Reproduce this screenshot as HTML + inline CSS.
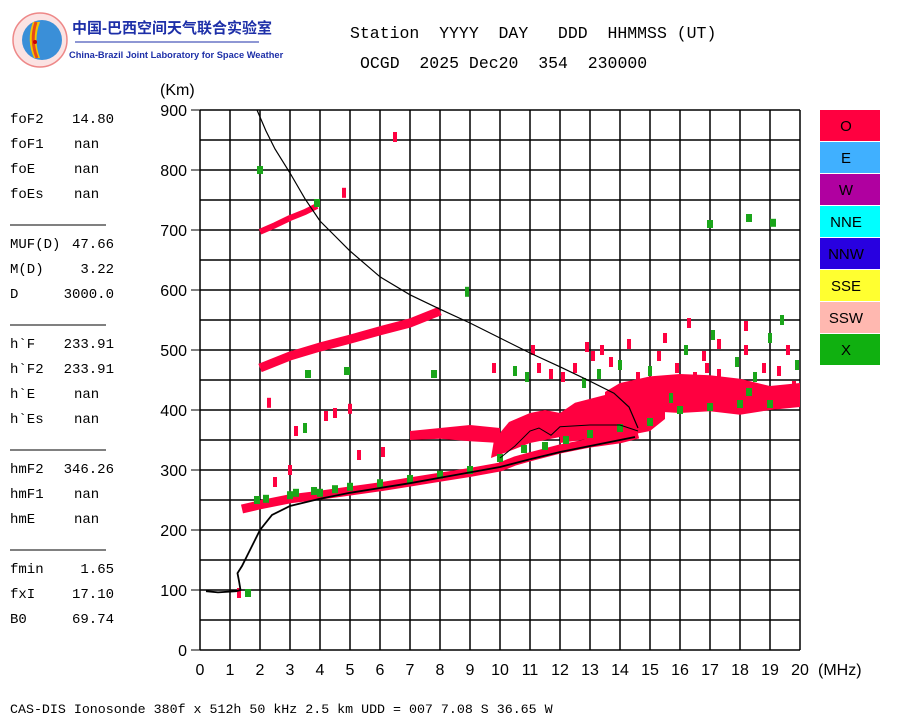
<!DOCTYPE html>
<html><head><meta charset="utf-8"><style>
body{margin:0;background:#fff;width:900px;height:720px;overflow:hidden}
svg text{font-family:"Liberation Sans","Noto Sans CJK SC",sans-serif}
svg text.mono{font-family:"Liberation Mono","Noto Sans CJK SC",monospace;font-size:14px;white-space:pre}
</style></head><body>
<svg id="chart" width="900" height="720" viewBox="0 0 900 720" xmlns="http://www.w3.org/2000/svg">
<g>
<circle cx="40" cy="40" r="27" fill="#fbe3e3" stroke="#e88" stroke-width="1.5"/>
<circle cx="42" cy="40" r="20" fill="#3a8fd8"/>
<path d="M33,22 Q26,40 34,58 L40,58 Q33,40 40,22 Z" fill="#f5c400"/>
<path d="M36,22 Q30,40 37,58" stroke="#e8481a" stroke-width="3" fill="none"/>
<circle cx="35" cy="42" r="2" fill="#c00"/>
<text x="72" y="33" font-size="15" fill="#1d2fa8" font-weight="bold">中国-巴西空间天气联合实验室</text>
<line x1="75" y1="42" x2="259" y2="42" stroke="#1d2fa8" stroke-width="1"/>
<text x="69" y="58" font-size="9.3" fill="#1d2fa8" font-weight="bold">China-Brazil Joint Laboratory for Space Weather</text>
</g>
<text class="mono" x="350" y="38" style="font-size:16.5px">Station  YYYY  DAY   DDD  HHMMSS (UT)</text>
<text class="mono" x="360" y="68" style="font-size:16.5px">OCGD  2025 Dec20  354  230000</text>
<text x="160" y="95" font-size="16">(Km)</text>
<text x="818" y="675" font-size="16">(MHz)</text>
<g id="params"></g>
<g id="grid"></g>
<g id="echoes"></g>
<g id="curves"></g>
<g id="axes"></g>
<g id="legend"></g>
<text class="mono" x="10" y="713" style="font-size:13.3px">CAS-DIS Ionosonde 380f x 512h 50 kHz 2.5 km UDD = 007 7.08 S 36.65 W</text>
</svg>
<script>
const xTicks=[0,1,2,3,4,5,6,7,8,9,10,11,12,13,14,15,16,17,18,19,20];
const yTicks=[0,100,200,300,400,500,600,700,800,900];
const bandF=[1.4,2,3,4,5,6,7,8,9,10,10.5,11,12,13,14,14.6];
const bandH=[235,242,252,258,265,272,280,288,296,305,315,322,335,345,352,360];
const hop2F=[2,3,4,5,6,7,7.5,8];
const hop2H=[470,490,505,518,532,545,555,565];
const hop3F=[2,2.5,3,3.5,3.9];
const hop3H=[697,708,720,730,740];
const cloudAF=[9.7,10.5,11,11.5,12,12,11.5,11,10.3,9.8];
const cloudAH=[320,335,345,350,355,395,400,395,380,350];
const cloudBF=[12,13,14,15,15.5,15.5,14.5,13.5,12.5,12];
const cloudBH=[345,352,355,365,385,425,432,425,412,395];
const cloudCF=[13.5,14,15,16,17,18,19,20,20,19,18,17,16,15,14,13.5];
const cloudCH=[395,400,398,395,398,392,400,405,445,440,452,458,460,456,445,430];
const cloudDF=[7,8,9,10,10,9,8,7];
const cloudDH=[350,352,348,345,370,375,370,365];
const scatF=[11.3,11.7,12.5,12.8,13.1,13.4,13.7,14,14.3,14.6,15,15.3,15.5,15.9,16.2,16.5,16.8,17.1,17.3,17.6,17.9,18.2,18.5,18.8,19,19.3,19.6,19.9,16.3,18.2,19.4,17.3,12.1,10.5,9.8,12.9,6.5,4.8,8.9,4.5,5,4.2,3.2,3.5,1.3,3,2.3,2.5,5.3,6.1,10.9,11.1,19.8,15.7,16.9,14.9,13.3];
const scatH=[470,460,470,445,490,500,480,475,510,455,465,490,520,470,500,455,490,525,460,445,480,500,455,470,520,465,500,475,545,540,550,510,455,465,470,505,855,762,597,395,402,390,365,370,95,300,412,280,325,330,455,500,440,420,470,440,460];
const scatC=['r','r','r','g','r','r','r','g','r','r','g','r','r','r','g','r','r','g','r','r','g','r','g','r','g','r','r','g','r','r','g','r','r','g','r','r','r','r','g','r','r','r','r','g','r','r','r','r','r','r','g','r','r','g','r','r','g'];
const greenF=[1.9,2.2,3,3.2,3.8,4,4.5,5,6,7,8,9,10,10.8,11.5,12.2,13,14,15,16,17,18,18.3,19,1.6,2,3.6,4.9,7.8,3.9,17,18.3,19.1];
const greenH=[250,252,258,262,265,262,268,272,278,285,292,300,320,335,340,350,360,370,380,400,405,410,430,410,95,800,460,465,460,745,710,720,712];
const legendLabels=['O','E','W','NNE','NNW','SSE','SSW','X'];
const legendColors=['#ff0040','#40b0ff','#b000a0','#00ffff','#2800e0','#ffff30','#ffb8b0','#10b010'];
const trueF=[0.2,0.6,1.2,1.35,1.3,1.25,1.4,1.6,1.8,2,2.4,3,4,5,6,7,8,9,10,11,12,13,14,14.5];
const trueH=[98,96,98,100,115,128,140,160,180,200,225,240,252,262,270,278,287,296,305,318,330,340,350,355];
const topF=[1.9,2.2,2.5,3,3.5,4,4.5,5,6,7,8,9,10,11,12,13,13.8,14.3,14.6];
const topH=[900,865,835,795,752,715,690,665,622,592,568,545,520,495,472,448,428,405,370];
const innerF=[10,10.5,11,11.3,11.7,12,13,14,14.6];
const innerH=[320,340,365,370,358,372,375,375,365];
const paramLabels=['foF2','foF1','foE','foEs','MUF(D)','M(D)','D','h`F','h`F2','h`E','h`Es','hmF2','hmF1','hmE','fmin','fxI','B0'];
const paramValues=['14.80','nan','nan','nan','47.66','3.22','3000.0','233.91','233.91','nan','nan','346.26','nan','nan','1.65','17.10','69.74'];
const paramRows=[0,1,2,3,5,6,7,9,10,11,12,14,15,16,18,19,20];

const NS='http://www.w3.org/2000/svg';
const X=f=>200+f*30, Y=h=>650-h*0.6;
function mk(tag,attrs,parent){const e=document.createElementNS(NS,tag);for(const k in attrs)e.setAttribute(k,attrs[k]);parent.appendChild(e);return e;}
const G=document.getElementById('grid'),E=document.getElementById('echoes'),C=document.getElementById('curves'),A=document.getElementById('axes'),L=document.getElementById('legend'),P=document.getElementById('params');
paramLabels.forEach((lb,i)=>{const y=118+paramRows[i]*25+5;
const t=mk('text',{x:10,y:y,class:'mono'},P);t.textContent=lb;


const v=paramValues[i];
const attrs=v==='nan'?{x:74,y:y,class:'mono'}:{x:114,y:y,class:'mono','text-anchor':'end'};
const tv=mk('text',attrs,P);tv.textContent=v;

});
for(const y of [225,325,450,550]){const l=mk('line',{x1:10,y1:y,x2:106,y2:y,stroke:'#000'},P);

}
for(const f of xTicks){const l=mk('line',{x1:X(f),y1:110,x2:X(f),y2:650,stroke:'#000','stroke-width':1.5},G);


const t=mk('text',{x:X(f),y:675,'font-size':16,'text-anchor':'middle'},A);t.textContent=f;

}
for(let h=0;h<=900;h+=50){const l=mk('line',{x1:200,y1:Y(h),x2:800,y2:Y(h),stroke:'#000','stroke-width':1.5},G);

}
for(const h of yTicks){const t=mk('text',{x:187,y:Y(h)+6,'font-size':16,'text-anchor':'end'},A);t.textContent=h;


const l=mk('line',{x1:191,y1:Y(h),x2:200,y2:Y(h),stroke:'#000'},A);

}
const RED='#ff0040',GRN='#1aa51a';
function band(fs,hs,w,name){const pl=mk('polyline',{points:fs.map((f,i)=>X(f)+','+Y(hs[i])).join(' '),fill:'none',stroke:RED,'stroke-width':w,'stroke-linejoin':'round'},E);

}
function cloud(fs,hs,name){const pg=mk('polygon',{points:fs.map((f,i)=>X(f)+','+Y(hs[i])).join(' '),fill:RED},E);

}
band(bandF,bandH,9,'o-trace-band');band(hop2F,hop2H,9,'second-hop-band');band(hop3F,hop3H,6,'third-hop-band');
cloud(cloudAF,cloudAH,'spread-cloud-a');cloud(cloudBF,cloudBH,'spread-cloud-b');cloud(cloudCF,cloudCH,'spread-cloud-c');cloud(cloudDF,cloudDH,'spread-cloud-d');
scatF.forEach((f,i)=>{const r=mk('rect',{x:X(f)-2,y:Y(scatH[i])-5,width:4,height:10,fill:scatC[i]==='g'?GRN:RED},E);

});
greenF.forEach((f,i)=>{const r=mk('rect',{x:X(f)-3,y:Y(greenH[i])-4,width:6,height:8,fill:GRN},E);

});
function curve(fs,hs,w,name){const pl=mk('polyline',{points:fs.map((f,i)=>X(f)+','+Y(hs[i])).join(' '),fill:'none',stroke:'#000','stroke-width':w},C);

}
curve(trueF,trueH,1.8,'true-height-profile');curve(topF,topH,1.2,'topside-profile');curve(innerF,innerH,1,'inner-trace');
legendLabels.forEach((lb,i)=>{const y=110+i*32;const r=mk('rect',{x:820,y:y,width:60,height:31,fill:legendColors[i]},L);


const t=mk('text',{x:846,y:y+21,'font-size':15,'text-anchor':'middle'},L);t.textContent=lb;

});
</script>
</body></html>
